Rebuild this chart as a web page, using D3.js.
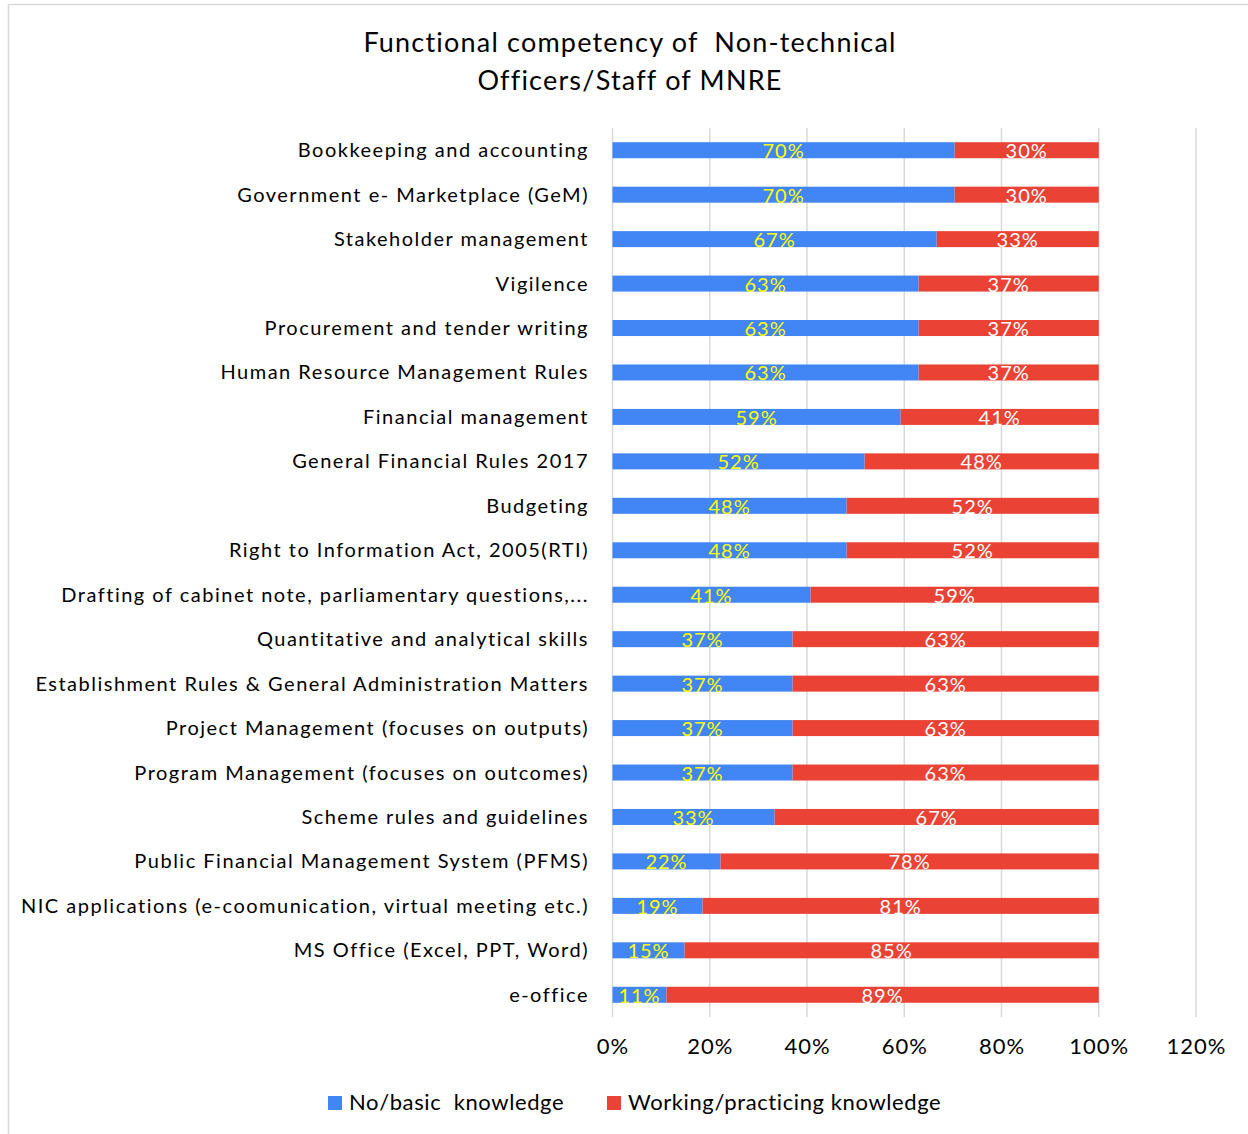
<!DOCTYPE html>
<html><head><meta charset="utf-8">
<script src="https://cdn.jsdelivr.net/npm/d3@7"></script>
<style>body{margin:0;background:#fff}svg{display:block}text{font-family:Lato,"Open Sans",sans-serif;white-space:pre}</style>
</head><body>
<svg id="c" width="1248" height="1134"></svg>
<script>
const categories = [
 "Bookkeeping and accounting",
 "Government e- Marketplace (GeM)",
 "Stakeholder management",
 "Vigilence",
 "Procurement and tender writing",
 "Human Resource Management Rules",
 "Financial management",
 "General Financial Rules 2017",
 "Budgeting",
 "Right to Information Act, 2005(RTI)",
 "Drafting of cabinet note, parliamentary questions,...",
 "Quantitative and analytical skills",
 "Establishment Rules & General Administration Matters",
 "Project Management (focuses on outputs)",
 "Program Management (focuses on outcomes)",
 "Scheme rules and guidelines",
 "Public Financial Management System (PFMS)",
 "NIC applications (e-coomunication, virtual meeting etc.)",
 "MS Office (Excel, PPT, Word)",
 "e-office"
];
const basicValues = [70.37,70.37,66.67,62.96,62.96,62.96,59.26,51.85,48.15,48.15,40.74,37.04,37.04,37.04,37.04,33.33,22.22,18.52,14.81,11.11];
const workingValues = [29.63,29.63,33.33,37.04,37.04,37.04,40.74,48.15,51.85,51.85,59.26,62.96,62.96,62.96,62.96,66.67,77.78,81.48,85.19,88.89];
const seriesNames = ["No/basic  knowledge","Working/practicing knowledge"];
const tickValues = [0,20,40,60,80,100,120];
const titleLines = ["Functional competency of  Non-technical","Officers/Staff of MNRE"];

const colors = ["#4285F4","#EA4335"];
const labelColors = ["#FFFF00","#FFFFFF"];
const svg = d3.select("#c");

// chart border
svg.append("rect").attr("x",8.5).attr("y",4.5).attr("width",1260).attr("height",1160)
  .attr("fill","none").attr("stroke","#d9d9d9").attr("stroke-width",1.5);

// title
svg.append("g").selectAll("text").data(titleLines).join("text")
  .attr("x",630).attr("y",(d,i)=>52+i*38).attr("text-anchor","middle")
  .attr("font-size",27).attr("letter-spacing",1.2).attr("fill","#000").text(d=>d);

const x = d3.scaleLinear().domain([0,120]).range([612.5,1196]);
const y = d3.scaleBand().domain(categories).range([128,1017]).paddingInner(0.64).paddingOuter(0.32);

// gridlines
svg.append("g").selectAll("line").data(tickValues).join("line")
  .attr("x1",d=>x(d)).attr("x2",d=>x(d)).attr("y1",128).attr("y2",1017)
  .attr("stroke","#d9d9d9").attr("stroke-width",1.5);

// stacked data
const rows = categories.map((c,i)=>({cat:c, v:[basicValues[i], workingValues[i]]}));
const segs = [];
rows.forEach(r=>{ let s=0; r.v.forEach((v,k)=>{ segs.push({cat:r.cat,k,x0:s,x1:s+v,v}); s+=v; }); });

svg.append("g").selectAll("rect").data(segs).join("rect")
  .attr("x",d=>x(d.x0)).attr("width",d=>x(d.x1)-x(d.x0))
  .attr("y",d=>y(d.cat)).attr("height",y.bandwidth())
  .attr("fill",d=>colors[d.k]);

const fmt = d3.format(".0%");
svg.append("g").selectAll("text").data(segs).join("text")
  .attr("x",d=>(x(d.x0)+x(d.x1))/2).attr("y",d=>y(d.cat)+y.bandwidth()/2+8)
  .attr("text-anchor","middle").attr("font-size",20).attr("letter-spacing",1).attr("fill",d=>labelColors[d.k])
  .text(d=>fmt(d.v/100));

// category labels
svg.append("g").selectAll("text").data(categories).join("text")
  .attr("x",589).attr("y",d=>y(d)+y.bandwidth()/2+7)
  .attr("text-anchor","end").attr("font-size",20).attr("letter-spacing",1.5).attr("fill","#000").text(d=>d);

// x axis tick labels
const xAxis = d3.axisBottom(x).tickValues(tickValues).tickSize(0).tickFormat(d=>d+"%");
const ax = svg.append("g").attr("transform","translate(0,1035)").call(xAxis);
ax.select(".domain").remove();
ax.selectAll("text").attr("font-size",22).attr("letter-spacing",1).attr("fill","#000").attr("font-family","Lato,sans-serif");

// legend
const leg = svg.append("g");
const legX = [328,607];
seriesNames.forEach((n,i)=>{
  leg.append("rect").attr("x",legX[i]).attr("y",1096).attr("width",14).attr("height",14).attr("fill",colors[i]);
  leg.append("text").attr("x",legX[i]+21).attr("y",1110).attr("font-size",22).attr("letter-spacing",0.6).attr("fill","#000").text(n);
});
</script>
</body></html>
